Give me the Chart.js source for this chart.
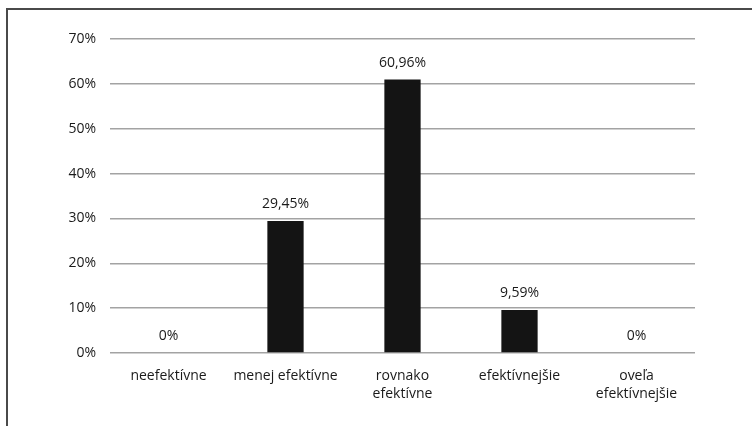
<!DOCTYPE html>
<html>
<head>
<meta charset="utf-8">
<script src="https://cdn.jsdelivr.net/npm/chart.js@4/dist/chart.umd.min.js"></script>
<style>
  html, body { margin: 0; padding: 0; background: #fff; }
  #wrap { width: 752px; height: 426px; position: relative; }
</style>
</head>
<body>
<div id="wrap"><canvas id="output" width="752" height="426"></canvas></div>
<script>
// hodnotenie efektivity - podiel odpovedi v %
var kategorie = ['neefektívne', 'menej efektívne', ['rovnako', 'efektívne'], 'efektívnejšie', ['oveľa', 'efektívnejšie']];
var hodnoty = [0, 29.45, 60.96, 9.59, 0];
var osY = [0, 10, 20, 30, 40, 50, 60, 70];

var pismo = '"Open Sans", "Liberation Sans", sans-serif';

function formatPct(v) {
    if (v === 0) return '0%';
    return v.toFixed(2).replace('.', ',') + '%';
}

// ramik okolo grafu (vidno len hornu a lavu hranu)
var ramik = {
    id: 'ramik',
    beforeDraw: function (chart) {
        var ctx = chart.ctx;
        ctx.save();
        ctx.strokeStyle = '#4a4a4a';
        ctx.lineWidth = 2;
        ctx.beginPath();
        ctx.moveTo(7, 430);
        ctx.lineTo(7, 9);
        ctx.lineTo(760, 9);
        ctx.stroke();
        ctx.restore();
    }
};

// popisky hodnot nad stlpcami
var popisky = {
    id: 'popisky',
    afterDatasetsDraw: function (chart) {
        var ctx = chart.ctx;
        var meta = chart.getDatasetMeta(0);
        ctx.save();
        ctx.font = '14px ' + pismo;
        ctx.fillStyle = '#1a1a1a';
        ctx.textAlign = 'center';
        ctx.textBaseline = 'middle';
        meta.data.forEach(function (bar, i) {
            ctx.fillText(formatPct(hodnoty[i]), bar.x, bar.y - 17);
        });
        ctx.restore();
    }
};

new Chart(document.getElementById('output'), {
    type: 'bar',
    data: {
        labels: kategorie,
        datasets: [{
            data: hodnoty,
            backgroundColor: '#141414',
            borderWidth: 0,
            categoryPercentage: 1,
            barPercentage: 0.31
        }]
    },
    options: {
        responsive: false,
        animation: false,
        layout: { padding: { left: 0, right: 57, top: 39, bottom: 0 } },
        plugins: {
            legend: { display: false },
            tooltip: { enabled: false }
        },
        scales: {
            x: {
                grid: { display: false },
                border: { display: false },
                ticks: {
                    color: '#1a1a1a',
                    font: { family: pismo, size: 14, lineHeight: 1.3 },
                    padding: 6,
                    maxRotation: 0,
                    autoSkip: false
                },
                afterFit: function (scale) { scale.height = 73; }
            },
            y: {
                min: 0,
                max: 70,
                afterBuildTicks: function (scale) {
                    scale.ticks = osY.map(function (v) { return { value: v }; });
                },
                grid: { color: '#a3a3a3', lineWidth: 1.5, drawTicks: false },
                border: { display: false },
                ticks: {
                    color: '#1a1a1a',
                    font: { family: pismo, size: 14 },
                    padding: 14,
                    callback: function (v) { return v + '%'; }
                },
                afterFit: function (scale) { scale.width = 110; }
            }
        }
    },
    plugins: [ramik, popisky]
});
</script>
</body>
</html>
